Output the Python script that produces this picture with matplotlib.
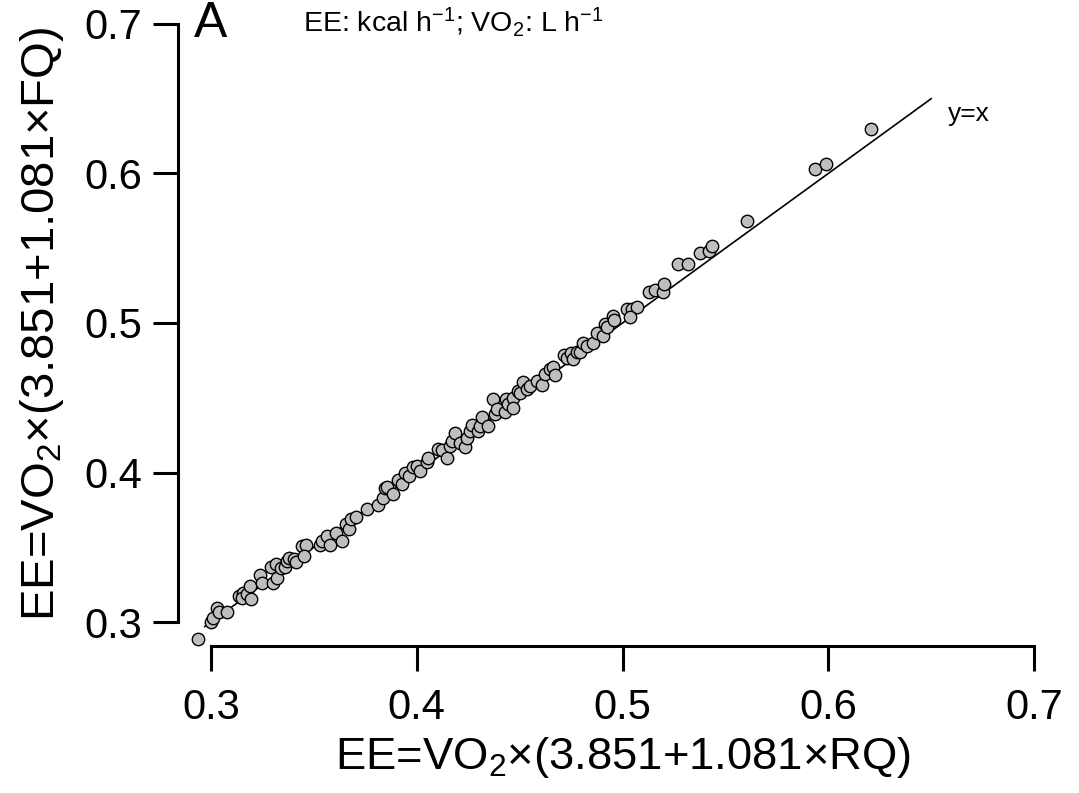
import matplotlib
matplotlib.use("Agg")
import matplotlib.pyplot as plt

plt.rcParams['font.family'] = ['Liberation Sans', 'DejaVu Sans']
plt.rcParams['mathtext.fontset'] = 'custom'
plt.rcParams['mathtext.rm'] = 'Liberation Sans'
plt.rcParams['mathtext.it'] = 'Liberation Sans'
plt.rcParams['mathtext.default'] = 'regular'

# EE from RQ (x) and from FQ (y)
ee_rq = [0.2938, 0.3001, 0.3011, 0.3031, 0.3040, 0.3079, 0.3137, 0.3157, 0.3152, 0.3176,
         0.3191, 0.3196, 0.3239, 0.3249, 0.3293, 0.3317, 0.3303, 0.3322, 0.3341, 0.3361,
         0.3371, 0.3380, 0.3405, 0.3414, 0.3443, 0.3463, 0.3453, 0.3531, 0.3541, 0.3565,
         0.3579, 0.3608, 0.3637, 0.3657, 0.3672, 0.3681, 0.3706, 0.3759, 0.3813, 0.3837,
         0.3846, 0.3856, 0.3885, 0.3910, 0.3929, 0.3944, 0.3963, 0.3983, 0.4002, 0.4017,
         0.4051, 0.4056, 0.4104, 0.4124, 0.4148, 0.4162, 0.4172, 0.4187, 0.4211, 0.4235,
         0.4245, 0.4259, 0.4269, 0.4298, 0.4308, 0.4318, 0.4347, 0.4371, 0.4381, 0.4390,
         0.4429, 0.4434, 0.4444, 0.4468, 0.4468, 0.4493, 0.4502, 0.4517, 0.4536, 0.4551,
         0.4585, 0.4609, 0.4624, 0.4648, 0.4662, 0.4672, 0.4716, 0.4731, 0.4750, 0.4760,
         0.4779, 0.4794, 0.4808, 0.4828, 0.4857, 0.4876, 0.4905, 0.4915, 0.4925, 0.4954,
         0.4959, 0.5022, 0.5046, 0.5071, 0.5036, 0.5129, 0.5158, 0.5197, 0.5202, 0.5270,
         0.5319, 0.5377, 0.5420, 0.5435, 0.5605, 0.5935, 0.5989, 0.6208]
ee_fq = [0.2886, 0.3000, 0.3027, 0.3094, 0.3067, 0.3067, 0.3174, 0.3194, 0.3161, 0.3188,
         0.3241, 0.3154, 0.3315, 0.3261, 0.3369, 0.3389, 0.3261, 0.3295, 0.3362, 0.3369,
         0.3409, 0.3429, 0.3422, 0.3402, 0.3509, 0.3516, 0.3442, 0.3516, 0.3543, 0.3576,
         0.3516, 0.3596, 0.3543, 0.3657, 0.3623, 0.3690, 0.3704, 0.3757, 0.3784, 0.3831,
         0.3898, 0.3905, 0.3858, 0.3951, 0.3925, 0.3998, 0.3978, 0.4039, 0.4045, 0.4012,
         0.4072, 0.4099, 0.4159, 0.4152, 0.4099, 0.4179, 0.4213, 0.4266, 0.4199, 0.4173,
         0.4233, 0.4280, 0.4320, 0.4280, 0.4313, 0.4374, 0.4313, 0.4494, 0.4394, 0.4427,
         0.4407, 0.4494, 0.4461, 0.4501, 0.4434, 0.4548, 0.4534, 0.4608, 0.4561, 0.4581,
         0.4615, 0.4588, 0.4662, 0.4695, 0.4709, 0.4655, 0.4789, 0.4769, 0.4802, 0.4756,
         0.4809, 0.4809, 0.4869, 0.4849, 0.4869, 0.4930, 0.4910, 0.4990, 0.4970, 0.5050,
         0.5017, 0.5091, 0.5091, 0.5104, 0.5037, 0.5204, 0.5224, 0.5204, 0.5258, 0.5392,
         0.5392, 0.5466, 0.5479, 0.5513, 0.5680, 0.6028, 0.6062, 0.6297]

ticks = [0.3, 0.4, 0.5, 0.6, 0.7]
tick_labels = ['0.3', '0.4', '0.5', '0.6', '0.7']
line_x = [0.297, 0.65]

W, H = 1079, 793
fig = plt.figure(figsize=(W / 100, H / 100), dpi=100)
ax = fig.add_axes([178 / W, (H - 646) / H, (1067 - 178) / W, 646 / H])
ax.set_xlim(0.284, 0.716)
ax.set_ylim(0.284, 0.716)

ax.plot(line_x, line_x, color='black', lw=1.2, zorder=1)
ax.scatter(ee_rq, ee_fq, s=80, facecolor='#bebebe', edgecolor='black', linewidths=1.0,
           zorder=2, clip_on=False)
ax.text(0.658, 0.64, 'y=x', fontsize=19, ha='left', va='center')

for s in ['top', 'right']:
    ax.spines[s].set_visible(False)
for s in ['left', 'bottom']:
    ax.spines[s].set_linewidth(2.2)
    ax.spines[s].set_bounds(0.3, 0.7)
    ax.spines[s].set_capstyle('projecting')

ax.set_xticks(ticks)
ax.set_xticklabels(tick_labels)
ax.set_yticks(ticks)
ax.set_yticklabels(tick_labels)
ax.tick_params(axis='both', length=18, width=2.2, labelsize=30)
ax.tick_params(axis='x', pad=12)
ax.tick_params(axis='y', pad=8)

ax.set_xlabel(r'EE=VO$_2$×(3.851+1.081×RQ)', fontsize=32.7)
ax.xaxis.set_label_coords(0.5, -0.138)
fig.text(42 / W, 1 - 324 / H, r'EE=VO$_2$×(3.851+1.081×FQ)', fontsize=34,
         rotation=90, ha='center', va='center')

fig.text(211 / W, 1 - 24 / H, 'A', fontsize=36, ha='center', va='center')
fig.text(303 / W, 1 - 22 / H, r'EE: kcal h$^{-1}$; VO$_2$: L h$^{-1}$', fontsize=20.5,
         ha='left', va='center')

fig.savefig('out.png', dpi=100)
